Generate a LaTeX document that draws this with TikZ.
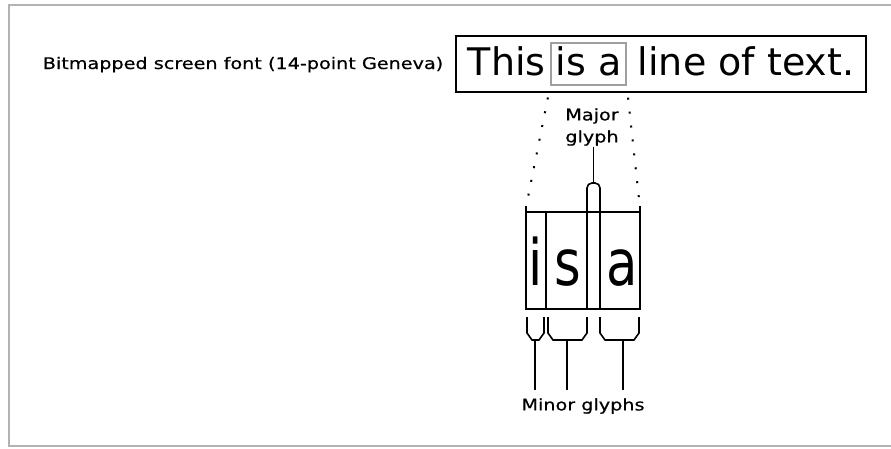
\documentclass[tikz,border=0pt]{standalone}
\usepackage{fontspec}
\setmainfont{DejaVu Sans}
\newfontfamily\genevasmall[FakeStretch=1.2,FakeBold=0.6]{DejaVu Sans}
\newfontfamily\genevabig[FakeStretch=0.8]{DejaVu Sans}
\begin{document}
\begin{tikzpicture}[x=1pt,y=-1pt,line width=1.6pt,
  smalltext/.style={inner sep=0pt,font=\genevasmall\fontsize{16}{22}\selectfont},
  linetext/.style={inner sep=0pt,anchor=base west,font=\fontsize{38}{40}\selectfont},
  bigglyph/.style={inner sep=0pt,anchor=base,font=\genevabig\fontsize{64}{70}\selectfont},
  dots/.style={line width=2pt,dash pattern=on 2pt off 12pt}]
\useasboundingbox (0,0) rectangle (891,448);
\draw[gray!60,line width=2.5pt] (9,5) rectangle (896,446);

% the sample line of text
\node (caption) [smalltext,anchor=base west] at (42,69) {Bitmapped screen font (14-point Geneva)};
\node (linebox) [draw,line width=2.2pt,minimum width=410,minimum height=56,inner sep=0pt] at (661,64) {};
\node (isa) [draw=gray!75,line width=1.5pt,minimum width=75,minimum height=42,inner sep=0pt] at (588.5,64) {};
\node (this) [linetext] at (467,75) {This};
\node (isatext) [linetext,anchor=base] at (588.5,75) {is a};
\node (rest) [linetext] at (637,75) {line of text.};

% the glyph cells
\node (cells) [minimum width=112,minimum height=101,inner sep=0pt] at (583,257.5) {};
\draw (cells.north west) -- (cells.south west) -- (cells.south east) -- (cells.north east);
\draw (527,212) -- (639,212);
\draw (546,212) -- (546,308);
\node (gi) [bigglyph] at (536,285) {i};
\node (gs) [bigglyph] at (567.5,285) {s};
\node (ga) [bigglyph] at (622,285) {a};

\draw[dots,shorten <=12pt,shorten >=7pt] (isa.south west) -- (cells.north west);
\draw[dots,shorten <=12pt,shorten >=7pt] (isa.south east) -- (cells.north east);

% major glyph
\node (major) [smalltext,align=center] at (592,127) {Major\\glyph};
\coordinate (captop) at (593.5,183);
\draw[rounded corners=5pt] (587,308) -- (587,183) -- (600,183) -- (600,308);
\draw (captop |- major.south) -- (captop);

% minor glyphs
\node (minor) [smalltext] at (583,406) {Minor glyphs};
\coordinate (minortop) at (583,390);
\foreach \l/\r/\m [count=\k] in {527/544/535,548/587/567,600/639/623} {
  \draw (\l,317) -- (\l,333) -- (\l+5,340) -- (\r-5,340) -- (\r,333) -- (\r,317);
  \coordinate (stem\k) at (\m,340);
  \draw (stem\k) -- (stem\k |- minortop);
}
\end{tikzpicture}
\end{document}
